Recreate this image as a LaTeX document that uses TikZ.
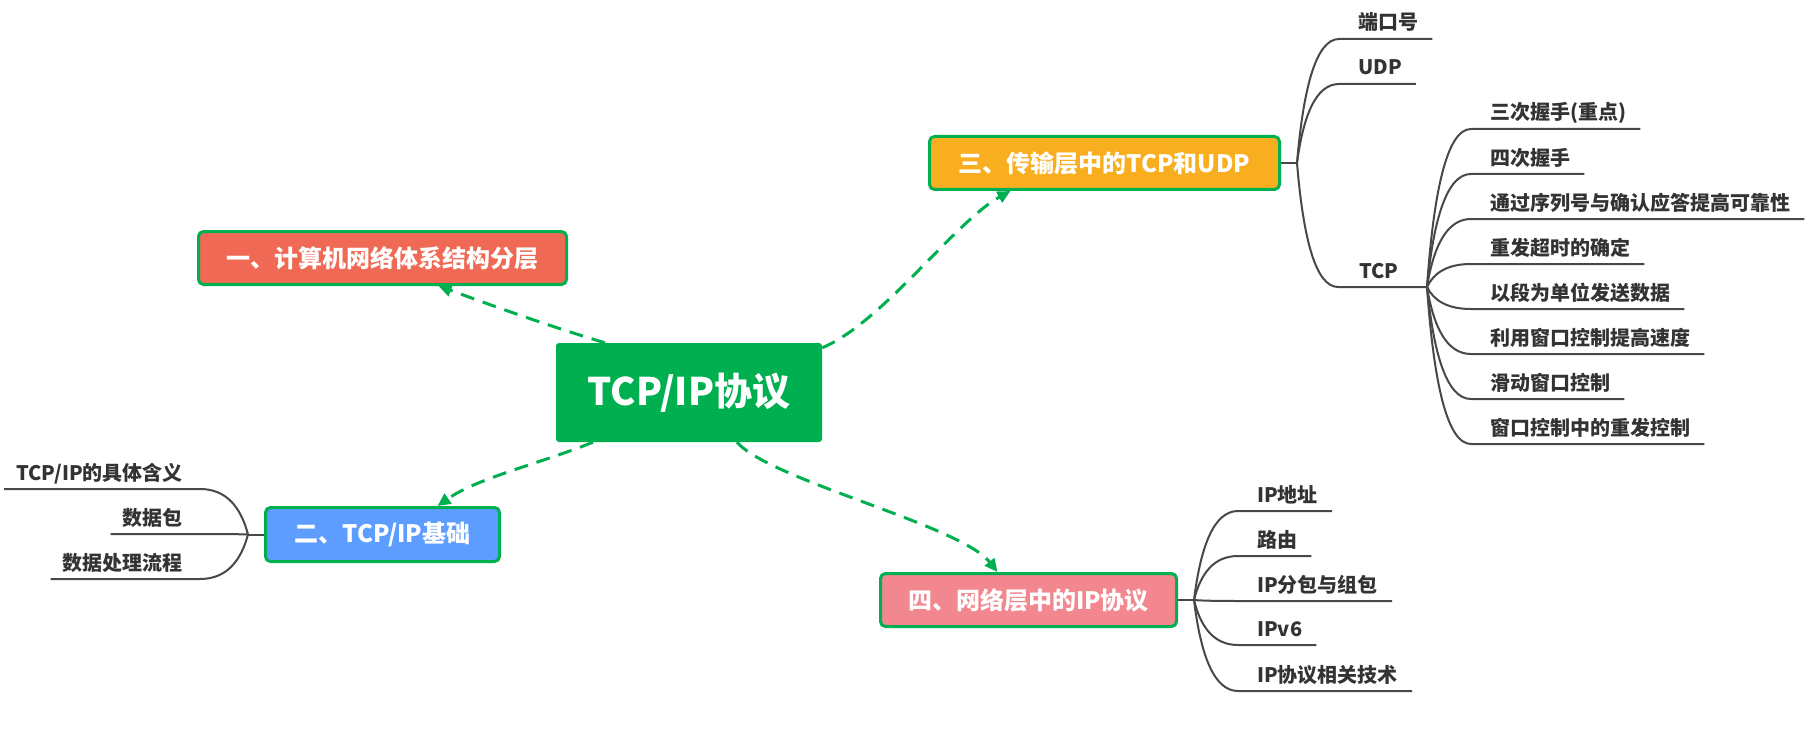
\documentclass[tikz,border=0pt]{standalone}
\usepackage{fontspec}
\setmainfont{Noto Sans CJK SC}
\usetikzlibrary{arrows.meta,calc}
\definecolor{mapgreen}{RGB}{0,176,80}
\definecolor{topicred}{RGB}{239,105,84}
\definecolor{topicblue}{RGB}{92,157,255}
\definecolor{topicorange}{RGB}{248,174,30}
\definecolor{topicpink}{RGB}{242,135,143}
\definecolor{leafgray}{RGB}{51,51,51}
\definecolor{twiggray}{RGB}{72,72,72}
\begin{document}
\begin{tikzpicture}[x=1pt,y=-1pt,
  topic/.style={draw=mapgreen,line width=3pt,rounded corners=5pt,text=white,font=\fontsize{24}{28}\selectfont\bfseries,inner sep=0pt},
  leaf/.style={anchor=base west,inner sep=0pt,text=leafgray,font=\fontsize{20}{24}\selectfont\bfseries},
  link/.style={mapgreen,line width=3pt,dash pattern=on 14pt off 9pt,-{Triangle[length=13pt,width=12pt]}},
  twig/.style={to path={let \p1=(\tikztostart),\p2=(\tikztotarget) in
    .. controls ({\x1+0.15*(\x2-\x1)},{\y1+0.6*(\y2-\y1)}) and ({\x1+0.45*(\x2-\x1)},\y2) .. (\tikztotarget)}},
  branch/.style={twiggray,line width=2pt,twig}]
\def\rtwig#1#2{\draw[branch] (#1) to ($(#2.base west)+(-19,9)$) -- ($(#2.base east)+(14,9)$);}
\def\ltwig#1#2{\draw[branch] (#1) to ($(#2.base east)+(17,9)$) -- ($(#2.base west)+(-12,9)$);}
\path[use as bounding box,fill=white] (0,0) rectangle (1808,741);

% centre and main topics
\node[fill=mapgreen,rounded corners=3pt,minimum width=266pt,minimum height=99pt,text=white,font=\fontsize{38}{44}\selectfont\bfseries] (root) at (689,392.5) {TCP/IP协议};
\node[topic,fill=topicred,minimum width=368pt,minimum height=53pt] (one) at (382.5,258) {一、计算机网络体系结构分层};
\node[topic,fill=topicblue,minimum width=234pt,minimum height=54pt] (two) at (382.5,534.5) {二、TCP/IP基础};
\node[topic,fill=topicorange,minimum width=350pt,minimum height=53pt] (three) at (1104.5,163) {三、传输层中的TCP和UDP};
\node[topic,fill=topicpink,minimum width=296pt,minimum height=53pt] (four) at (1028.5,600) {四、网络层中的IP协议};

\draw[link] ($(root.north)+(-84,0)$) .. controls +(-60,-18) and +(55,20) .. ($(one.south)+(56,0)$);
\draw[link] ($(root.south)+(-96,0)$) .. controls +(-55,22) and +(40,-28) .. ($(two.north)+(55,0)$);
\draw[link] ($(root.north east)+(0,5)$) .. controls +(60,-25) and +(-55,30) .. ($(three.south)+(-94,0)$);
\draw[link] ($(root.south)+(48,0)$) .. controls +(33,38) and +(-37,-47) .. ($(four.north)+(-31,0)$);

\coordinate (j2) at ($(two.west)+(-16,0)$);
\coordinate (j3) at ($(three.east)+(16,0)$);
\coordinate (j4) at ($(four.east)+(16,0)$);
\coordinate (jt) at (1427,287);
\draw[twiggray,line width=2pt] (two.west) -- (j2);
\draw[twiggray,line width=2pt] (three.east) -- (j3);
\draw[twiggray,line width=2pt] (four.east) -- (j4);

% leaves of two
\node[leaf,anchor=base east] (mean) at (183,480) {TCP/IP的具体含义};
\node[leaf,anchor=base east] (packet) at (183,525) {数据包};
\node[leaf,anchor=base east] (flow) at (183,570) {数据处理流程};
\ltwig{j2}{mean}
\ltwig{j2}{packet}
\ltwig{j2}{flow}

% leaves of three
\node[leaf] (port) at (1358,30) {端口号};
\node[leaf] (udp) at (1358,75) {UDP};
\node[leaf] (tcp) at (1359,278) {TCP};
\rtwig{j3}{port}
\rtwig{j3}{udp}
\draw[branch] (j3) to ($(tcp.base west)+(-21,9)$) -- (jt);

\node[leaf] (shake3) at (1490,120) {三次握手(重点)};
\node[leaf] (shake4) at (1490,165) {四次握手};
\node[leaf] (seq) at (1490,210) {通过序列号与确认应答提高可靠性};
\node[leaf] (rto) at (1490,255) {重发超时的确定};
\node[leaf] (seg) at (1490,300) {以段为单位发送数据};
\node[leaf] (win) at (1490,345) {利用窗口控制提高速度};
\node[leaf] (slide) at (1490,390) {滑动窗口控制};
\node[leaf] (resend) at (1490,435) {窗口控制中的重发控制};
\rtwig{jt}{shake3}
\rtwig{jt}{shake4}
\rtwig{jt}{seq}
\rtwig{jt}{rto}
\rtwig{jt}{seg}
\rtwig{jt}{win}
\rtwig{jt}{slide}
\rtwig{jt}{resend}

% leaves of four
\node[leaf] (addr) at (1257,502) {IP地址};
\node[leaf] (route) at (1257,547) {路由};
\node[leaf] (frag) at (1257,592) {IP分包与组包};
\node[leaf] (ipv6) at (1257,636) {IPv6};
\node[leaf] (tech) at (1257,682) {IP协议相关技术};
\rtwig{j4}{addr}
\rtwig{j4}{route}
\rtwig{j4}{frag}
\rtwig{j4}{ipv6}
\rtwig{j4}{tech}
\end{tikzpicture}
\end{document}
